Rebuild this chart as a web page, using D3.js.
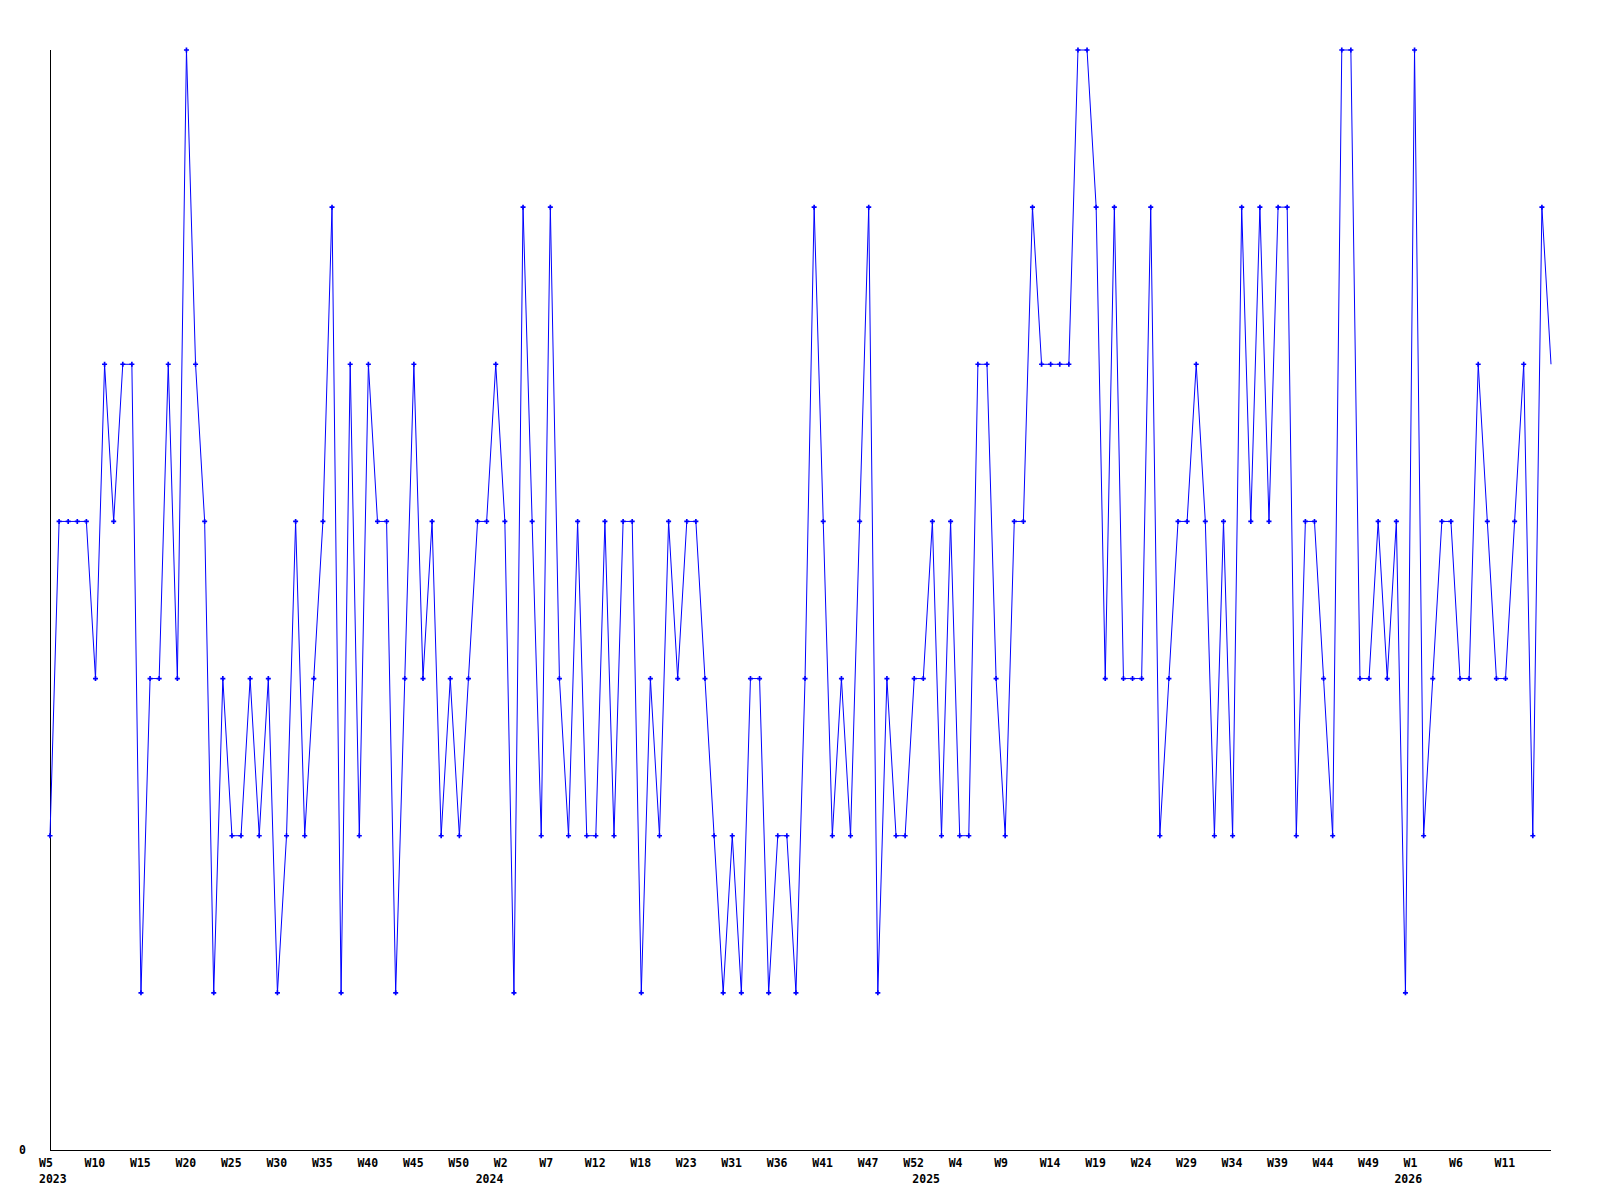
<!DOCTYPE html>
<html>
<head>
<meta charset="utf-8">
<script src="https://cdn.jsdelivr.net/npm/d3@7"></script>
<style>
	body { margin: 0; background: #fff; }
	svg text { font-family: "DejaVu Sans Mono", "Liberation Mono", monospace; font-weight: bold; font-size: 11.5px; fill: #000; }
</style>
</head>
<body>
<script>
// weekly values, one per point (W5 2023 .. W16 2026)
var values = [
	2,4,4,4,4,3,5,4,5,5,1,3,3,5,3,7,5,4,1,3,2,2,
	3,2,3,1,2,4,2,3,4,6,1,5,2,5,4,4,1,3,5,3,4,
	2,3,2,3,4,4,5,4,1,6,4,2,6,3,2,4,2,2,4,2,
	4,4,1,3,2,4,3,4,4,3,2,1,2,1,3,3,1,2,2,1,3,
	6,4,2,3,2,4,6,1,3,2,2,3,3,4,2,4,2,2,5,5,3,2,4,4,6,5,5,
	5,5,7,7,6,3,6,3,3,3,6,2,3,4,4,5,4,2,4,2,6,4,6,4,6,6,2,4,
	4,3,2,7,7,3,3,4,3,4,1,7,2,3,4,4,3,3,5,4,3,3,4,5,2,6,5
];
// week tick labels, one every 5 points starting at the first
var weekLabels = ["W5","W10","W15","W20","W25","W30","W35","W40","W45","W50",
	"W2","W7","W12","W18","W23","W31","W36","W41","W47","W52",
	"W4","W9","W14","W19","W24","W29","W34","W39","W44","W49",
	"W1","W6","W11"];
var weekStep = 5;
// year labels and the point index they sit under
var yearLabels = ["2023","2024","2025","2026"];
var yearIndex = [0, 48, 96, 149];
var yMax = 7;

// plot area (window.top is reserved, so no plain "top" here)
var chartW = 1600, chartH = 1200;
var plotLeft = 50, plotRight = 1551, plotTop = 50, plotBottom = 1150;

var svg = d3.select("body").append("svg")
	.attr("width", chartW)
	.attr("height", chartH);

var x = d3.scaleLinear().domain([0, values.length - 1]).range([plotLeft, plotRight]);
var y = d3.scaleLinear().domain([0, yMax]).range([plotBottom, plotTop]);

// axes lines
svg.append("line")
	.attr("x1", plotLeft + 0.5).attr("x2", plotLeft + 0.5)
	.attr("y1", y(yMax)).attr("y2", plotBottom + 0.5)
	.attr("stroke", "#000").attr("stroke-width", 1)
	.style("shape-rendering", "crispEdges");
svg.append("line")
	.attr("x1", plotLeft).attr("x2", plotRight)
	.attr("y1", plotBottom + 0.5).attr("y2", plotBottom + 0.5)
	.attr("stroke", "#000").attr("stroke-width", 1)
	.style("shape-rendering", "crispEdges");

// only the zero label on the y axis
svg.append("text")
	.attr("x", 26)
	.attr("y", y(0) + 3.5)
	.attr("text-anchor", "end")
	.text("0");

// week labels (drawn from a fixed offset left of the tick)
svg.selectAll(".week")
	.data(weekLabels)
	.enter().append("text")
	.attr("class", "week")
	.attr("x", function(d, i){ return x(i * weekStep) - 11; })
	.attr("y", 1166.5)
	.text(function(d){ return d; });

// year labels
svg.selectAll(".year")
	.data(yearLabels)
	.enter().append("text")
	.attr("class", "year")
	.attr("x", function(d, i){ return x(yearIndex[i]) - 11; })
	.attr("y", 1183)
	.text(function(d){ return d; });

// data line
var line = d3.line()
	.x(function(d, i){ return x(i); })
	.y(function(d){ return y(d); });

svg.append("path")
	.datum(values)
	.attr("d", line)
	.attr("fill", "none")
	.attr("stroke", "#0000ff")
	.attr("stroke-width", 1);

// point markers (last point has none in the original)
var marker = d3.symbol().type(d3.symbolCross).size(14);
svg.selectAll(".pt")
	.data(values.slice(0, values.length - 1))
	.enter().append("path")
	.attr("class", "pt")
	.attr("d", marker)
	.attr("transform", function(d, i){ return "translate(" + x(i) + "," + y(d) + ")"; })
	.attr("fill", "#0000ff");
</script>
</body>
</html>
